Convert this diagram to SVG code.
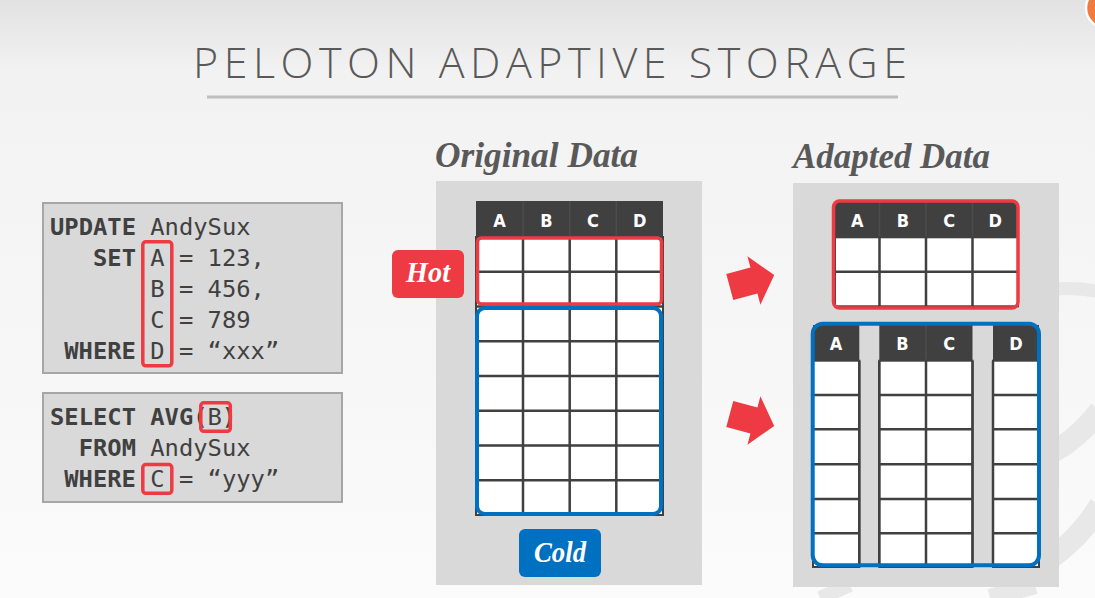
<svg xmlns="http://www.w3.org/2000/svg" width="1095" height="598" viewBox="0 0 1095 598">
<defs>
<linearGradient id="bg" x1="0" y1="0" x2="0" y2="1">
<stop offset="0" stop-color="#e2e2e2"/>
<stop offset="0.12" stop-color="#f2f2f2"/>
<stop offset="1" stop-color="#fbfbfb"/>
</linearGradient>
<polygon id="arrow" points="-23,-13.5 2,-13.5 2,-25 23,0 2,25 2,13.5 -23,13.5"/>
</defs>
<style>
.title{font-family:"Open Sans","Lato","Liberation Sans",sans-serif;font-weight:300;font-size:43px;fill:#595959}
.code{font-family:"DejaVu Sans Mono","Liberation Mono",monospace;font-size:23.8px;fill:#404040}
.kw{font-weight:bold}
.codebox{fill:#d9d9d9;stroke:#a6a6a6;stroke-width:2}
.hl{fill:none;stroke:#ee3a43;stroke-width:3.5}
.panel{fill:#d9d9d9}
.ptitle{font-family:"Liberation Serif","Times New Roman",serif;font-weight:bold;font-style:italic;font-size:35px;fill:#595959}
.hdr{fill:#404040}
.hdrtxt{font-family:"Liberation Sans Narrow","DejaVu Sans Condensed","Liberation Sans",sans-serif;font-weight:bold;font-size:18px;fill:#ffffff;text-anchor:middle}
.cells{fill:#ffffff;stroke:#404040;stroke-width:2}
.grid{stroke:#404040;stroke-width:2.5;fill:none}
.hsep{stroke:#4c4c4c;stroke-width:1.5}
.hot{fill:none;stroke:#ee3a43;stroke-width:3.5}
.cold{fill:none;stroke:#0070c0;stroke-width:4}
.lbl{font-family:"Liberation Serif","Times New Roman",serif;font-weight:bold;font-style:italic;font-size:29px;fill:#ffffff;text-anchor:middle}
.swoosh{fill:none;stroke:#e8e8e8}
</style>

<rect x="0" y="0" width="1095" height="598" fill="url(#bg)"/>

<g id="decor">
<path class="swoosh" stroke-width="13" d="M 1000 300 C 1040 288, 1075 286, 1100 292"/>
<path class="swoosh" stroke-width="22" d="M 1040 458 C 1065 448, 1085 430, 1100 410"/>
<path class="swoosh" stroke-width="22" d="M 1040 565 C 1065 550, 1085 530, 1100 505"/>
<path class="swoosh" stroke-width="14" d="M 820 598 L 850 585"/>
<path class="swoosh" stroke-width="18" d="M 990 598 L 1035 585"/>
<circle cx="1106" cy="8" r="20" fill="#f27a3c" stroke="#ffffff" stroke-width="2.5"/>
</g>

<g id="title">
<text class="title" x="193" y="78" textLength="714" lengthAdjust="spacing">PELOTON ADAPTIVE STORAGE</text>
<line x1="207" y1="97" x2="898" y2="97" stroke="#bfbfbf" stroke-width="3"/>
</g>

<g id="query-update">
<rect class="codebox" x="43" y="203" width="299" height="170"/>
<text class="code"><tspan class="kw" x="50" y="235">UPDATE</tspan><tspan x="150.3" y="235">AndySux</tspan></text>
<text class="code"><tspan class="kw" x="93" y="266">SET</tspan><tspan x="150.3" y="266">A = 123,</tspan></text>
<text class="code"><tspan x="150.3" y="297">B = 456,</tspan></text>
<text class="code"><tspan x="150.3" y="328">C = 789</tspan></text>
<text class="code"><tspan class="kw" x="64.3" y="358.5">WHERE</tspan><tspan x="150.3" y="358.5">D = “xxx”</tspan></text>
<rect class="hl" x="142.8" y="241.8" width="29" height="124" rx="3"/>
</g>

<g id="query-select">
<rect class="codebox" x="43" y="393" width="299" height="109"/>
<text class="code"><tspan class="kw" x="50" y="425">SELECT</tspan><tspan class="kw" x="150.3" y="425">AVG(</tspan><tspan x="207.6" y="425">B</tspan><tspan class="kw" x="222" y="425">)</tspan></text>
<text class="code"><tspan class="kw" x="78.7" y="456">FROM</tspan><tspan x="150.3" y="456">AndySux</tspan></text>
<text class="code"><tspan class="kw" x="64.3" y="487">WHERE</tspan><tspan x="150.3" y="487">C = “yyy”</tspan></text>
<rect class="hl" x="200.8" y="402.8" width="29.5" height="28.5" rx="3"/>
<rect class="hl" x="142.8" y="464.5" width="29" height="28.8" rx="3"/>
</g>

<g id="original-data">
<text class="ptitle" x="435" y="167" textLength="203" lengthAdjust="spacingAndGlyphs">Original Data</text>
<rect class="panel" x="436" y="181" width="266" height="404"/>
<rect class="hdr" x="476" y="201" width="187" height="36"/>
<line class="hsep" x1="523" y1="201" x2="523" y2="237"/>
<line class="hsep" x1="569.7" y1="201" x2="569.7" y2="237"/>
<line class="hsep" x1="616.3" y1="201" x2="616.3" y2="237"/>
<text class="hdrtxt" x="499.5" y="226.5">A</text>
<text class="hdrtxt" x="546.3" y="226.5">B</text>
<text class="hdrtxt" x="593" y="226.5">C</text>
<text class="hdrtxt" x="639.7" y="226.5">D</text>
<rect class="cells" x="476" y="237" width="187" height="278"/>
<path class="grid" d="M523 237V515M569.7 237V515M616.3 237V515M476 271.75H663M476 306.5H663M476 341.25H663M476 376H663M476 410.75H663M476 445.5H663M476 480.25H663"/>
<rect class="hot" x="477.5" y="238" width="184" height="66" rx="4"/>
<rect class="cold" x="477" y="308" width="184" height="206" rx="8"/>
</g>

<g id="hot-label">
<rect x="392" y="250" width="72" height="48" rx="6" fill="#ee3a43"/>
<text class="lbl" x="428" y="282" textLength="44" lengthAdjust="spacingAndGlyphs">Hot</text>
</g>

<g id="cold-label">
<rect x="519" y="529" width="82" height="48" rx="6" fill="#0070c0"/>
<text class="lbl" x="560" y="562" textLength="52" lengthAdjust="spacingAndGlyphs">Cold</text>
</g>

<g id="connectors" fill="#ee3a43">
<use href="#arrow" transform="translate(752,281) rotate(-15)"/>
<use href="#arrow" transform="translate(752,420) rotate(15)"/>
</g>

<g id="adapted-data">
<text class="ptitle" x="793" y="168" textLength="197" lengthAdjust="spacingAndGlyphs">Adapted Data</text>
<rect class="panel" x="793" y="183" width="266" height="404"/>
</g>

<g id="hot-table">
<rect class="hdr" x="835" y="202" width="183" height="35.3"/>
<line class="hsep" x1="879.5" y1="202" x2="879.5" y2="237"/>
<line class="hsep" x1="926" y1="202" x2="926" y2="237"/>
<line class="hsep" x1="972.5" y1="202" x2="972.5" y2="237"/>
<text class="hdrtxt" x="857.3" y="226.5">A</text>
<text class="hdrtxt" x="902.8" y="226.5">B</text>
<text class="hdrtxt" x="949.3" y="226.5">C</text>
<text class="hdrtxt" x="995.3" y="226.5">D</text>
<rect class="cells" x="835" y="237.3" width="183" height="69"/>
<path class="grid" d="M879.5 237.3V306M926 237.3V306M972.5 237.3V306M835 271.7H1018"/>
<rect class="hot" x="833.5" y="201" width="184.5" height="107" rx="6"/>
</g>

<g id="cold-table">
<rect class="hdr" x="813" y="325" width="46.3" height="35.7"/>
<rect class="hdr" x="879.3" y="325" width="93.2" height="35.7"/>
<rect class="hdr" x="993" y="325" width="46" height="35.7"/>
<line class="hsep" x1="926" y1="325" x2="926" y2="360.7"/>
<text class="hdrtxt" x="836" y="350">A</text>
<text class="hdrtxt" x="902.5" y="350">B</text>
<text class="hdrtxt" x="949.3" y="350">C</text>
<text class="hdrtxt" x="1016" y="350">D</text>
<rect class="cells" x="813" y="360.7" width="46.3" height="206.3"/>
<rect class="cells" x="879.3" y="360.7" width="93.2" height="206.3"/>
<rect class="cells" x="993" y="360.7" width="46" height="206.3"/>
<path class="grid" d="M926 360.7V567M813 395H859.3M813 429.3H859.3M813 464.3H859.3M813 499H859.3M813 533.3H859.3M879.3 395H972.5M879.3 429.3H972.5M879.3 464.3H972.5M879.3 499H972.5M879.3 533.3H972.5M993 395H1039M993 429.3H1039M993 464.3H1039M993 499H1039M993 533.3H1039"/>
<line class="grid" x1="859.3" y1="360.7" x2="859.3" y2="567"/>
<line class="grid" x1="879.3" y1="360.7" x2="879.3" y2="567"/>
<line class="grid" x1="972.5" y1="360.7" x2="972.5" y2="567"/>
<line class="grid" x1="993" y1="360.7" x2="993" y2="567"/>
<rect class="cold" x="812.7" y="323.7" width="226.3" height="241.6" rx="10"/>
</g>
</svg>
